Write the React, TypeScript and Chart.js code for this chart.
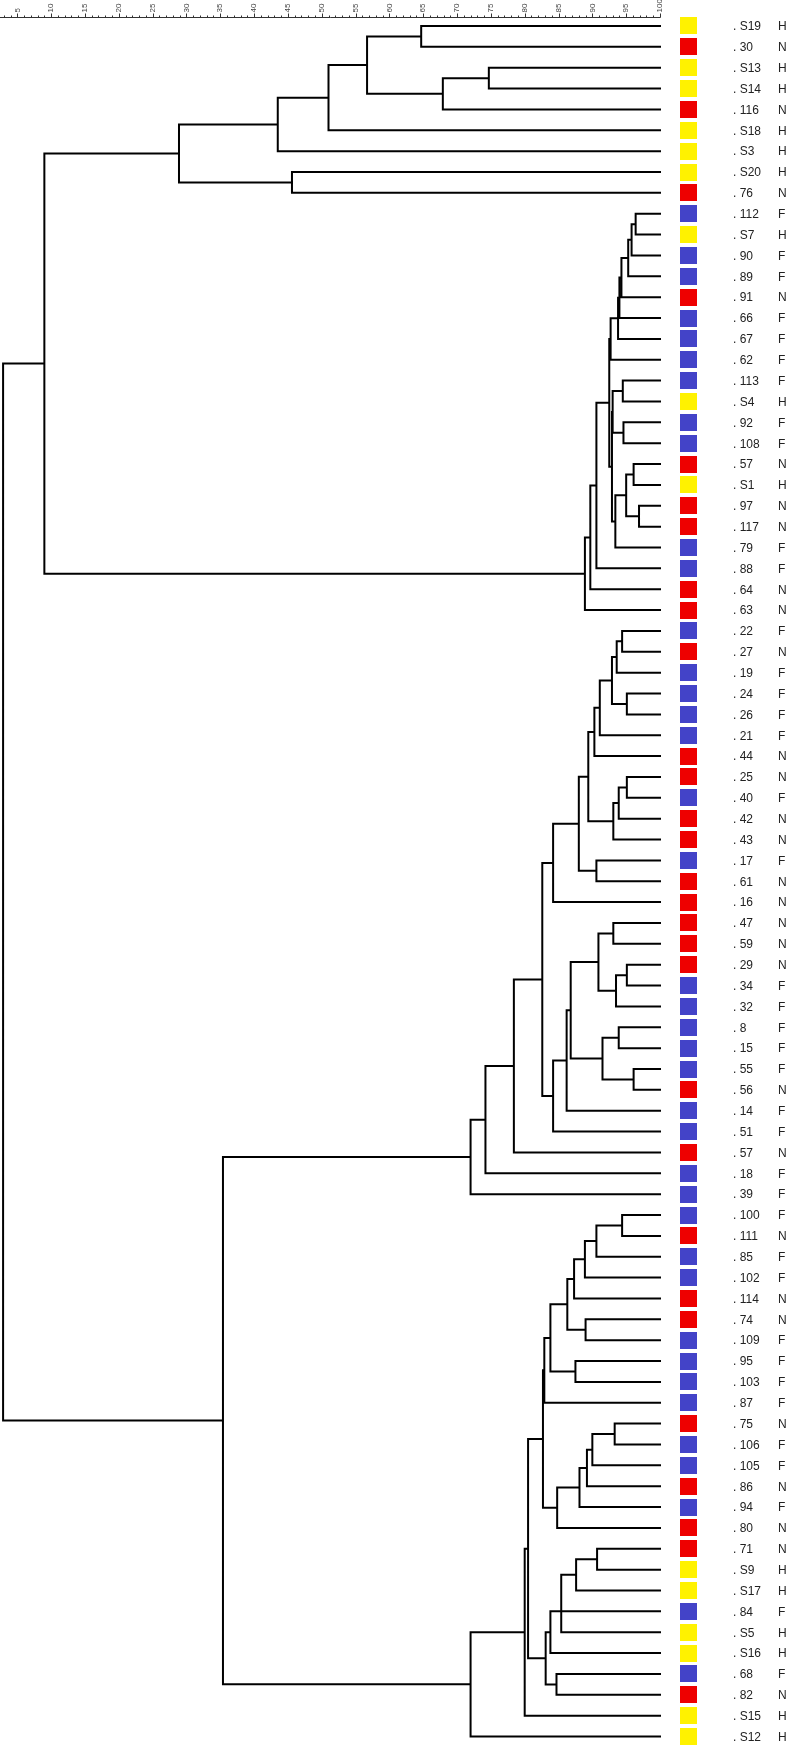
import React, { useEffect, useRef } from "react";
import { Chart, registerables } from "chart.js";

Chart.register(...registerables);

// ---- Leaves (top to bottom) ----
const leafLabels: string[] = [
  "S19", "30", "S13", "S14", "116", "S18", "S3", "S20", "76",
  "112", "S7", "90", "89", "91", "66", "67", "62", "113", "S4", "92", "108", "57", "S1", "97", "117", "79", "88", "64", "63",
  "22", "27", "19", "24", "26", "21", "44", "25", "40", "42", "43", "17", "61", "16", "47", "59", "29", "34", "32", "8", "15", "55", "56", "14", "51", "57", "18", "39",
  "100", "111", "85", "102", "114", "74", "109", "95", "103", "87", "75", "106", "105", "86", "94", "80", "71", "S9", "S17", "84", "S5", "S16", "68", "82", "S15", "S12",
];

const leafGroups: string[] = (
  "HNHHNHHHN" +
  "FHFFNFFFFHFFNHNNFFNN" +
  "FNFFFFNNFNNFNNNNNFFFFFNFFNFF" +
  "FNFFNNFFFFNFFNFNNHHFHHFNHH"
).split("");

const groupColors: Record<string, string> = {
  H: "#FFF200",
  N: "#EE0000",
  F: "#4343C8",
};

// ---- Merges: children (leaf index = number, earlier merge = "mK") ----
const mergeChildren: (number | string)[][] = [
  [0, 1], [2, 3], ["m1", 4], ["m0", "m2"], ["m3", 5], ["m4", 6], [7, 8], ["m5", "m6"],
  [9, 10], ["m8", 11], ["m9", 12], ["m10", 13], ["m11", 14], ["m12", 15], ["m13", 16],
  [17, 18], [19, 20], ["m15", "m16"], [21, 22], [23, 24], ["m18", "m19"], ["m20", 25],
  ["m17", "m21"], ["m14", "m22"], ["m23", 26], ["m24", 27], ["m25", 28], ["m7", "m26"],
  [29, 30], ["m28", 31], [32, 33], ["m29", "m30"], ["m31", 34], ["m32", 35], [36, 37],
  ["m34", 38], ["m35", 39], ["m33", "m36"], [40, 41], ["m37", "m38"], ["m39", 42],
  [43, 44], [45, 46], ["m42", 47], ["m41", "m43"], [48, 49], [50, 51], ["m45", "m46"],
  ["m44", "m47"], ["m48", 52], ["m49", 53], ["m40", "m50"], ["m51", 54], ["m52", 55], ["m53", 56],
  [57, 58], ["m55", 59], ["m56", 60], ["m57", 61], [62, 63], ["m58", "m59"], [64, 65],
  ["m60", "m61"], ["m62", 66], [67, 68], ["m64", 69], ["m65", 70], ["m66", 71], ["m67", 72],
  ["m63", "m68"], [73, 74], ["m70", 75], ["m71", 76, 77], ["m72", 78], [79, 80],
  ["m73", "m74"], ["m69", "m75"], ["m76", 81], ["m77", 82], ["m54", "m78"], ["m27", "m79"],
];

// similarity (%) at which each merge happens
const mergeHeights: number[] = [
  64.7, 74.7, 67.9, 56.7, 51.0, 43.5, 45.6, 28.9,
  96.4, 95.8, 95.3, 94.3, 94.0, 93.8, 92.7,
  94.5, 94.6, 93.0, 96.1, 96.9, 95.0, 93.4,
  92.9, 92.5, 90.6, 89.7, 88.9, 9.0,
  94.4, 93.6, 95.1, 92.9, 91.1, 90.3, 95.1,
  93.9, 93.1, 89.4, 90.6, 88.0, 84.2,
  93.1, 95.1, 93.5, 90.9, 93.9, 96.1, 91.5,
  86.8, 86.2, 84.2, 82.6, 78.4, 74.2, 72.0,
  94.4, 90.6, 88.9, 87.3, 89.0, 86.3, 87.5,
  83.8, 82.9, 93.3, 90.0, 89.2, 88.1, 84.8,
  82.7, 90.7, 87.6, 85.4, 83.8, 84.7,
  83.1, 80.5, 80.0, 72.0, 35.4, 2.9,
];

const axisMinorTicks: number[] = Array.from({ length: 98 }, (_, i) => i + 3);
const axisLabels: number[] = [5, 10, 15, 20, 25, 30, 35, 40, 45, 50, 55, 60, 65, 70, 75, 80, 85, 90, 95, 100];

const LEAF_END = 100;
const X_MIN = 2.443;
const Y_MIN = -0.431;
const Y_MAX = 82.55;

function buildSegments() {
  const nodeY: number[] = [];
  const pts: { x: number; y: number }[] = [];
  const resolve = (r: number | string) => {
    if (typeof r === "number") return { h: LEAF_END, y: r };
    const k = parseInt(r.slice(1), 10);
    return { h: mergeHeights[k], y: nodeY[k] };
  };
  mergeChildren.forEach((children, k) => {
    const h = mergeHeights[k];
    const cs = children.map(resolve);
    const ys = cs.map((c) => c.y).sort((a, b) => a - b);
    const n = ys.length;
    const y = n % 2 ? ys[(n - 1) / 2] : (ys[n / 2 - 1] + ys[n / 2]) / 2;
    nodeY[k] = y;
    cs.forEach((c) => {
      pts.push({ x: c.h, y: c.y }, { x: h, y: c.y }, { x: h, y });
      pts.push({ x: NaN, y: NaN });
    });
  });
  return pts;
}

const overlayPlugin = {
  id: "dendroOverlay",
  afterDraw(chart: any) {
    const ctx: CanvasRenderingContext2D = chart.ctx;
    const xs = chart.scales.x;
    const ys = chart.scales.y;
    const top = chart.chartArea.top;
    ctx.save();
    // top axis
    ctx.strokeStyle = "#333";
    ctx.lineWidth = 1;
    ctx.beginPath();
    ctx.moveTo(0, top + 0.5);
    ctx.lineTo(xs.getPixelForValue(100) + 0.5, top + 0.5);
    axisMinorTicks.forEach((v) => {
      const px = Math.round(xs.getPixelForValue(v)) + 0.5;
      const len = v % 5 === 0 ? 4 : 2;
      ctx.moveTo(px, top + 0.5);
      ctx.lineTo(px, top + 0.5 - len);
    });
    ctx.stroke();
    ctx.fillStyle = "#444";
    ctx.font = "8px 'Liberation Sans', Arial, sans-serif";
    ctx.textAlign = "left";
    ctx.textBaseline = "middle";
    axisLabels.forEach((v) => {
      const px = xs.getPixelForValue(v);
      ctx.save();
      ctx.translate(px, top - 4.5);
      ctx.rotate(-Math.PI / 2);
      ctx.fillText(String(v), 0, 0);
      ctx.restore();
    });
    // leaf colour boxes and labels
    const right = chart.chartArea.right;
    ctx.font = "12px 'Liberation Sans', Arial, sans-serif";
    ctx.textBaseline = "middle";
    leafLabels.forEach((lab, i) => {
      const py = ys.getPixelForValue(i);
      ctx.fillStyle = groupColors[leafGroups[i]];
      ctx.fillRect(right + 20, Math.round(py - 8.5), 17, 17);
      ctx.fillStyle = "#222";
      ctx.fillText(". " + lab, right + 73, py + 1);
      ctx.fillText(leafGroups[i], right + 118, py + 1);
    });
    ctx.restore();
  },
};

export default function App() {
  const ref = useRef<HTMLCanvasElement | null>(null);
  useEffect(() => {
    if (!ref.current) return;
    const chart = new Chart(ref.current, {
      type: "scatter",
      data: {
        datasets: [
          {
            data: buildSegments(),
            showLine: true,
            spanGaps: false,
            borderColor: "#000",
            borderWidth: 2,
            borderJoinStyle: "miter",
            borderCapStyle: "square",
            pointRadius: 0,
            pointHoverRadius: 0,
            tension: 0,
            clip: false,
          } as any,
        ],
      },
      options: {
        responsive: false,
        animation: false,
        events: [],
        layout: { padding: { top: 17, right: 134, left: 0, bottom: 0 } },
        plugins: { legend: { display: false }, tooltip: { enabled: false } },
        scales: {
          x: { type: "linear", min: X_MIN, max: 100, display: false },
          y: { type: "linear", min: Y_MIN, max: Y_MAX, reverse: true, display: false },
        },
      },
      plugins: [overlayPlugin],
    });
    return () => chart.destroy();
  }, []);
  return (
    <div style={{ position: "absolute", left: 0, top: 0, width: 794, height: 1748, background: "#fff" }}>
      <canvas ref={ref} width={794} height={1748} style={{ display: "block" }} />
    </div>
  );
}
